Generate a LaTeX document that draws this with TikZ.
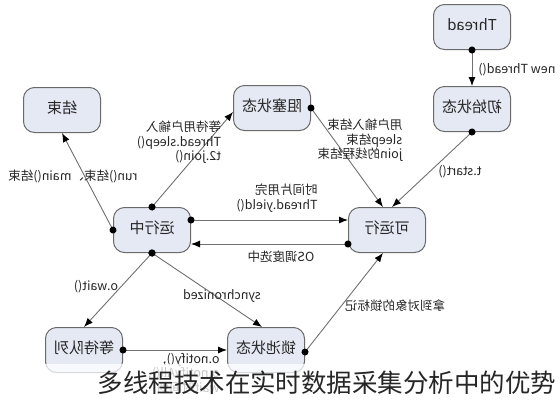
\documentclass[tikz,border=0pt]{standalone}
\usepackage{fontspec}
\setmainfont{Noto Sans CJK SC}
\usetikzlibrary{arrows.meta}

\definecolor{statefill}{HTML}{E4E9F4}
\definecolor{stateline}{HTML}{6A6A6A}
\definecolor{edgeline}{HTML}{707070}
\definecolor{txt}{HTML}{262626}

% the reference is printed mirrored
\newcommand{\mir}[1]{\reflectbox{\begin{tabular}{@{}l@{}}#1\end{tabular}}}

\tikzset{
  state/.style={draw=stateline, fill=statefill, line width=1pt, rounded corners=11pt,
    minimum width=77pt, minimum height=45pt, text=txt, font=\fontsize{15}{18}\selectfont},
  lbl/.style={text=txt, font=\fontsize{12.5}{14}\selectfont, inner sep=1pt},
  trans/.style={draw=edgeline, line width=0.9pt,
    {Circle[length=7pt,black]}-{Latex[length=9pt,width=7pt,black]}, shorten <=-3.5pt},
}

\begin{document}
\begin{tikzpicture}[x=1pt,y=-1pt]
\fill[white] (0,0) rectangle (560,400);
\useasboundingbox (0,0) rectangle (560,400);

\node[state] (thread)   at (472,27)  {\mir{Thread}};
\node[state] (init)     at (472,109) {\mir{初始状态}};
\node[state] (blocked)  at (272,108) {\mir{阻塞状态}};
\node[state] (dead)     at (62,110)  {\mir{结束}};
\node[state] (running)  at (152,230) {\mir{运行中}};
\node[state] (runnable) at (387,230) {\mir{可运行}};
\node[state] (waitq)    at (84,350)  {\mir{等待队列}};
\node[state] (lockpool) at (266,350) {\mir{锁池状态}};

\draw[trans] (thread.south) -- (init.north);
\draw[trans] (init.south) -- ([xshift=5pt]runnable.north);
\draw[trans] (blocked.east) -- ([xshift=-4pt]runnable.north);
\draw[trans] (running.north) -- ([yshift=-4pt]blocked.west);
\draw[trans] (running.west) -- (dead.south);
\draw[trans] ([yshift=10pt]running.east) -- ([yshift=10pt]runnable.west);
\draw[trans] ([yshift=-14pt]runnable.west) -- ([yshift=-14pt]running.east);
\draw[trans] (running.south) -- (waitq.north);
\draw[trans] (running.south) -- ([xshift=-4pt]lockpool.north);
\draw[trans] (waitq.east) -- (lockpool.west);
\draw[trans] ([yshift=-2pt]lockpool.east) -- ([xshift=-4pt]runnable.south);

\node[lbl] (lnew)   at (517,70)  {\mir{new Thread()}};
\node[lbl] (lstart) at (460,172) {\mir{t.start()}};
\node[lbl] (lwake)  at (360,141) {\mir{用户输入结束\\sleep结束\\join的线程结束}};
\node[lbl] (lblock) at (179,143) {\mir{等待用户输入\\Thread.sleep()\\t2.join()}};
\node[lbl] (lend)   at (73,177)  {\mir{run()结束、main()结束}};
\node[lbl] (lyield) at (277,199) {\mir{时间片用完\\Thread.yield()}};
\node[lbl] (lsched) at (281,258) {\mir{OS调度选中}};
\node[lbl] (lwait)  at (96,287)  {\mir{o.wait()}};
\node[lbl] (lsync)  at (222,297) {\mir{synchronized}};
\node[lbl, anchor=north] (lnotify) at (184,352) {\mir{o.notify(),\\o.notifyAll(),\\wait时间到}};
\node[lbl] (llock)  at (395,307) {\mir{拿到对象的锁标记}};

% caption over a pale band
\fill[white, opacity=0.75] (0,364) rectangle (560,400);
\node[font=\fontsize{25.5}{28}\selectfont, text=black!85, inner sep=0pt] (caption) at (327,383)
  {多线程技术在实时数据采集分析中的优势};
\end{tikzpicture}
\end{document}
